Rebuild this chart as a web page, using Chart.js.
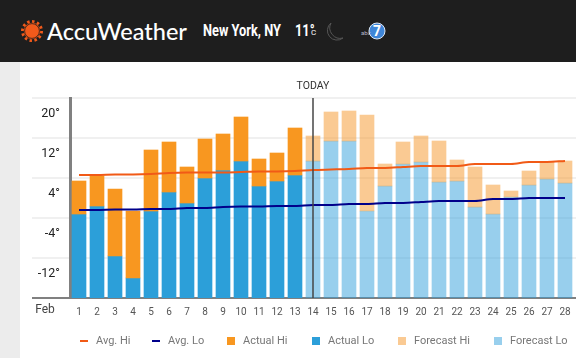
<!DOCTYPE html>
<html><head><meta charset="utf-8">
<script src="https://cdn.jsdelivr.net/npm/chart.js@4"></script>
<style>
html,body{margin:0;padding:0;width:576px;height:358px;overflow:hidden;background:#fff;}
#head{position:absolute;left:0;top:0;width:576px;height:62px;background:#1e1e1e;color:#fff;}
#side{position:absolute;left:0;top:62px;width:20px;height:296px;background:#ececec;}
#head span{position:absolute;white-space:nowrap;}
#brand{left:47px;top:14px;font:500 23.5px/34px Lato,"Open Sans",sans-serif;}
#city{left:203px;top:20px;font:700 16px/22px Roboto,sans-serif;transform:scaleX(.8);transform-origin:left;}
#temp{left:295px;top:20px;font:700 16px/22px Roboto,sans-serif;transform:scaleX(.8);transform-origin:left;}
#unit{left:311px;top:27px;font:400 8px/12px Roboto,sans-serif;}
#chart{position:absolute;left:0;top:0;}
svg{position:absolute;}
.lg{position:absolute;top:334px;height:14px;font:11px/14px Roboto,sans-serif;color:#777;white-space:nowrap;padding-left:16px;}
.lg i{position:absolute;left:0;width:8px;}
</style></head>
<body>
<div id="side"></div>
<div id="head">
<svg style="left:19px;top:18px" width="26" height="26" viewBox="-13 -13 26 26">
<circle r="8.2" fill="#f15a1b"/><circle r="9.6" fill="none" stroke="#f15a1b" stroke-width="2.8" stroke-dasharray="2.5 2.5"/><circle r="7.4" fill="#f15a1b" stroke="#1e1e1e" stroke-width=".8"/></svg>
<span id="brand">AccuWeather</span>
<span id="city">New York, NY</span>
<span id="temp">11°</span><span id="unit">C</span>
<svg style="left:323px;top:21px" width="22" height="22" viewBox="0 0 22 22"><path d="M8 2 A9.5 9.5 0 1 0 20 17 A10.5 10.5 0 0 1 8 2 Z" fill="none" stroke="#555" stroke-width="1"/></svg>
<svg style="left:358px;top:20px" width="30" height="22" viewBox="0 0 30 22"><circle cx="19" cy="11" r="8" fill="#3f86d8" stroke="#dfe8f5" stroke-width="1"/><text x="19" y="16" text-anchor="middle" font-family="Roboto" font-weight="700" font-size="14" fill="#fff">7</text><text x="3" y="15" font-family="Roboto" font-size="6" fill="#b9b9c9">abc</text></svg>
</div>
<canvas id="chart" width="576" height="358"></canvas>
<script>
const days = ['1','2','3','4','5','6','7','8','9','10','11','12','13','14','15','16','17','18','19','20','21','22','23','24','25','26','27','28'];
const avgHi = [4.6,4.6,4.7,4.7,4.8,5,5.1,5.1,5.1,5.2,5.3,5.3,5.4,5.6,5.7,5.8,6,6,6.2,6.4,6.4,6.4,6.8,6.8,6.8,7.2,7.2,7.4];
const avgLo = [-2.4,-2.4,-2.3,-2.3,-2.2,-2.2,-2,-2,-1.8,-1.7,-1.7,-1.6,-1.6,-1.4,-1.4,-1.2,-1.2,-1,-1,-0.8,-0.6,-0.6,-0.6,-0.2,-0.2,0,0,0];
const actualHi = [3.4,4.4,1.8,-2.6,9.6,11.2,6.2,11.8,12.8,16.2,7.8,9,14];
const actualLo = [-3.2,-1.6,-11.6,-16,-2.6,1.2,-1,4,5.6,7.4,2.4,3.4,4.6];
const forecastHi = [12.4,17.2,17.4,16.6,6.8,11.2,12.4,11.4,7.6,6.2,2.6,1.4,5.4,7.2,7.4];
const forecastLo = [7.4,11.4,11.4,-2.6,2.4,6.8,7.2,3.2,3.4,-1.8,-3.2,0.2,2.6,3.8,3];
const yTicks = [20,12,4,-4,-12];
const gridTicks = [20,12,4,-4,-12,-20];
const monthLabel = 'Feb', todayLabel = 'TODAY', todayIndex = 13, floorValue = -20;

const pad = Array(todayIndex).fill(null);
const fromFloor = a => a.map(v => [floorValue, v]);
const spans = (lo, hi) => lo.map((v, i) => [v, hi[i]]);
const bar = (label, color, data) => ({label, type:'bar', data, backgroundColor:color, borderColor:color, borderWidth:0, grouped:false, barThickness:14});
const line = (label, color, data) => ({label, type:'line', data, borderColor:color, backgroundColor:color, borderWidth:2, pointRadius:0, tension:0.3, clip:false});
const TICK = '#808080';

const extras = {
  id:'extras',
  beforeDatasetsDraw(c){
    const {ctx, chartArea:a, scales:{y}} = c;
    y.ticks.forEach(t => {
      ctx.fillStyle = t.value === floorValue ? TICK : '#f0f0f0';
      ctx.fillRect(a.right, Math.round(y.getPixelForValue(t.value)) - 1, c.width - a.right, 2);
    });
  },
  afterDatasetsDraw(c){
    const {ctx, chartArea:a, scales:{x}} = c;
    const px = x.getPixelForValue(todayIndex);
    ctx.save();
    ctx.fillStyle = 'rgba(70,70,70,.75)';
    ctx.fillRect(Math.round(px) - 1, a.top, 2, a.bottom - a.top);
    ctx.textAlign = 'center'; ctx.textBaseline = 'middle';
    ctx.fillStyle = '#333';
    ctx.font = '10.5px Roboto';
    ctx.fillText(todayLabel, px, 86);
    ctx.fillStyle = '#444';
    ctx.font = '12px Roboto';
    ctx.fillText(monthLabel, 45, 310);
    ctx.restore();
  }
};

const chart = new Chart(document.getElementById('chart'), {
  data:{labels:days, datasets:[
    line('Avg. Hi','#f15a16',avgHi),
    line('Avg. Lo','#00008b',avgLo),
    bar('Actual Hi','#f89720',spans(actualLo,actualHi)),
    bar('Actual Lo','#2c9fd9',fromFloor(actualLo)),
    bar('Forecast Hi','rgba(245,150,40,.5)',pad.concat(spans(forecastLo,forecastHi))),
    bar('Forecast Lo','rgba(50,160,220,.5)',pad.concat(fromFloor(forecastLo)))
  ]},
  options:{
    responsive:false, animation:false,
    layout:{padding:{left:0,right:2,top:98,bottom:0}},
    plugins:{tooltip:{enabled:false},legend:{display:false}},
    scales:{
      x:{
        grid:{display:false},border:{display:false},
        afterFit(s){s.height=60;},
        ticks:{autoSkip:false,maxRotation:0,padding:0,color:'#555',font:{family:'Roboto',size:10}}
      },
      y:{
        min:floorValue,max:20,
        afterFit(s){s.width=70;},
        afterBuildTicks(s){s.ticks=gridTicks.map(value=>({value}));},
        grid:{
          color:c=>c.tick&&c.tick.value===floorValue?TICK:'#f0f0f0',
          lineWidth:2,tickLength:38,drawTicks:true
        },
        border:{display:true,color:TICK,width:3},
        ticks:{
          padding:-28,labelOffset:16,autoSkip:false,color:'#222',font:{family:'Roboto',size:12.5},
          callback:v=>yTicks.includes(v)?v+'°':''
        }
      }
    }
  },
  plugins:[extras]
});

// Legend built from the chart's own datasets
const legendLeft = [80,152,227,312,398,494];
chart.data.datasets.forEach((d,i)=>{
  const el = document.createElement('div');
  el.className = 'lg';
  el.style.left = legendLeft[i]+'px';
  const sw = document.createElement('i');
  sw.style.background = d.type==='line' ? d.borderColor : d.backgroundColor;
  sw.style.top = d.type==='line' ? '6px' : '3px';
  sw.style.height = d.type==='line' ? '2px' : '8px';
  el.appendChild(sw);
  el.appendChild(document.createTextNode(d.label));
  document.body.appendChild(el);
});
</script>
</body></html>
